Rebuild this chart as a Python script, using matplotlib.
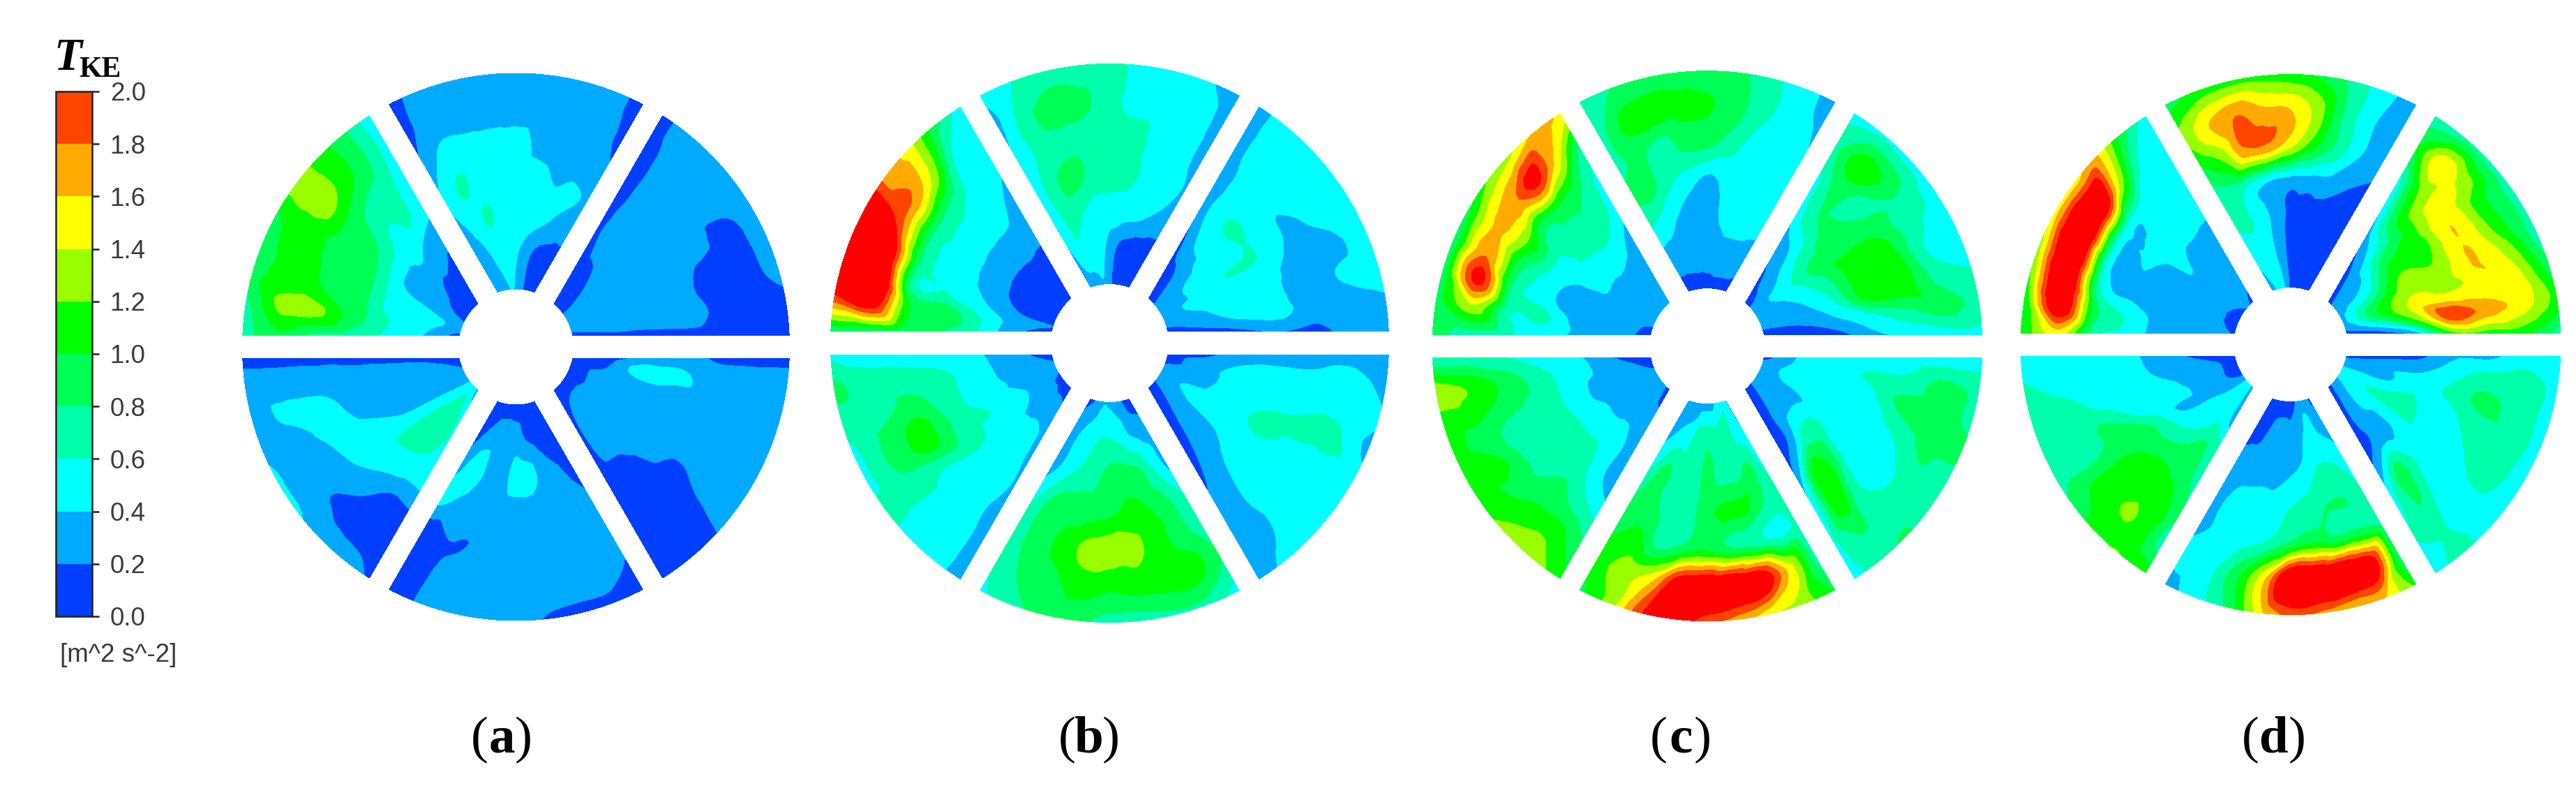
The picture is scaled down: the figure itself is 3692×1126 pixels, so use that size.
import numpy as np
import matplotlib
matplotlib.use("Agg")
import matplotlib.pyplot as plt
from matplotlib.colors import ListedColormap, BoundaryNorm
from matplotlib.cm import ScalarMappable
from matplotlib.tri import Triangulation, CubicTriInterpolator, UniformTriRefiner

# TKE values per blade passage: rows run rim -> hub, columns run clockwise
a_ul = [[.7,.75,.9,.9,1.0,1.3,1.1,.85,.45],[.95,1.25,1.1,1.1,1.1,1.3,1.1,.85,.5],[.75,1.25,1.0,.95,.9,.9,.75,.7,.45],
        [.7,.9,.9,.9,.85,.75,.55,.62,.45],[.55,.6,.5,.48,.4,.38,.42,.3,.25],[.4,.45,.5,.38,.3,.25,.18,.18,.12],[.12,.25,.28,.2,.12,.1,.1,.1,.1]]
a_t = [[.1,.3,.3,.3,.3,.3,.3,.3,.1],[.15,.3,.3,.3,.3,.3,.3,.3,.15],[.25,.5,.5,.5,.5,.35,.3,.3,.22],
       [.42,.62,.55,.5,.5,.5,.4,.42,.38],[.35,.48,.62,.55,.5,.5,.43,.35,.28],[.25,.35,.45,.5,.42,.28,.15,.12,.15],[.25,.3,.35,.4,.38,.25,.15,.12,.1]]
a_ur = [[.12,.3,.3,.3,.3,.3,.28,.12,.1],[.12,.25,.3,.3,.15,.12,.1,.1,.1],[.12,.25,.3,.3,.28,.18,.15,.18,.12],
        [.12,.3,.3,.3,.3,.28,.28,.3,.13],[.15,.25,.3,.3,.3,.3,.3,.28,.13],[.12,.12,.2,.28,.3,.3,.3,.28,.15],[.1,.1,.1,.2,.25,.25,.25,.22,.12]]
a_lr = [[.15,.3,.3,.3,.3,.3,.18,.1,.1],[.15,.3,.3,.3,.3,.28,.1,.1,.1],[.17,.3,.3,.3,.3,.17,.1,.1,.1],
        [.3,.45,.3,.3,.3,.28,.18,.1,.1],[.25,.52,.3,.3,.3,.3,.3,.28,.15],[.12,.2,.27,.27,.27,.3,.3,.27,.15],[.1,.1,.1,.1,.12,.12,.12,.1,.1]]
a_b = [[.12,.15,.15,.18,.3,.3,.3,.22,.1],[.2,.3,.3,.3,.3,.3,.3,.2,.1],[.22,.3,.3,.3,.3,.28,.2,.2,.12],
       [.22,.3,.3,.3,.3,.28,.3,.33,.5],[.12,.22,.3,.48,.5,.3,.33,.58,.3],[.1,.1,.15,.2,.3,.3,.3,.25,.15],[.1,.1,.1,.1,.1,.12,.12,.1,.1]]
a_ll = [[.18,.28,.32,.42,.42,.38,.3,.3,.15],[.1,.12,.15,.22,.3,.3,.45,.3,.15],[.15,.12,.28,.38,.42,.5,.45,.3,.15],
        [.45,.45,.5,.55,.5,.35,.3,.3,.13],[.55,.65,.68,.58,.37,.3,.3,.3,.13],[.55,.68,.65,.5,.32,.3,.3,.28,.13],[.3,.55,.45,.35,.3,.25,.2,.15,.12]]

b_ul = [[.8,1.9,2.5,2.5,2.3,1.7,1.5,.9,.5],[.8,2.2,2.6,2.4,1.9,1.75,1.3,.55,.45],[.85,1.05,.7,.8,.75,.75,.65,.5,.42],
        [.8,.95,.6,.5,.5,.5,.48,.45,.3],[.6,.6,.42,.35,.32,.3,.3,.3,.25],[.25,.3,.2,.12,.1,.1,.1,.1,.1],[.12,.2,.15,.1,.1,.1,.1,.1,.1]]
b_t = [[.45,.6,.65,.65,.65,.55,.5,.42,.3],[.35,.72,.92,.85,.68,.5,.5,.5,.32],[.42,.65,.72,.72,.75,.72,.5,.5,.32],
       [.45,.75,.88,.75,.7,.65,.55,.5,.38],[.4,.65,.62,.5,.5,.5,.47,.38,.3],[.38,.55,.5,.48,.32,.15,.1,.1,.12],[.2,.3,.35,.38,.25,.15,.1,.1,.1]]
b_ur = [[.32,.48,.45,.5,.5,.5,.5,.38,.3],[.32,.5,.5,.48,.42,.35,.42,.32,.28],[.3,.45,.42,.4,.38,.3,.3,.3,.13],
        [.28,.55,.62,.6,.6,.48,.45,.48,.2],[.18,.42,.48,.48,.6,.48,.48,.42,.15],[.12,.2,.35,.42,.42,.45,.38,.3,.12],[.1,.12,.25,.28,.3,.3,.28,.2,.1]]
b_lr = [[.3,.35,.42,.35,.5,.5,.5,.45,.3],[.32,.5,.55,.65,.55,.5,.5,.35,.3],[.3,.45,.55,.62,.58,.5,.5,.38,.28],
        [.3,.45,.5,.6,.62,.52,.48,.32,.18],[.3,.42,.48,.5,.5,.45,.32,.25,.12],[.15,.3,.3,.35,.45,.4,.3,.2,.1],[.1,.12,.2,.25,.3,.28,.2,.12,.1]]
b_b = [[.5,.72,.75,.7,.7,.85,.85,.75,.55],[.8,1.1,1.1,1.1,1.05,1.1,.95,.85,.65],[.7,.9,1.1,1.25,1.3,1.25,1.05,.9,.68],
       [.6,.85,1.0,1.05,.95,.9,.9,.85,.55],[.35,.6,.85,.9,.88,.72,.65,.5,.3],[.3,.35,.42,.55,.6,.6,.5,.42,.3],[.1,.12,.25,.3,.35,.38,.3,.2,.15]]
b_ll = [[.3,.48,.55,.65,.55,.55,.7,.85,.55],[.32,.48,.5,.68,.85,.85,.7,.68,.52],[.32,.45,.5,.62,1.05,1.05,.85,.68,.5],
        [.38,.48,.5,.65,.7,.68,.65,.62,.48],[.35,.48,.5,.5,.58,.48,.48,.45,.42],[.3,.35,.33,.38,.4,.35,.3,.3,.25],[.1,.12,.15,.15,.2,.22,.22,.18,.12]]

c_ul = [[.9,.9,.85,.8,.95,1.2,1.35,1.6,1.55],[.7,1.35,2.1,1.75,1.65,1.75,2.1,1.55,.8],[.65,.65,.75,.85,1.1,.85,.95,.85,.55],
        [.5,.65,.45,.48,.55,.68,.72,.72,.5],[.35,.3,.3,.35,.5,.5,.52,.45,.3],[.3,.3,.3,.3,.3,.3,.3,.3,.28],[.12,.15,.22,.28,.3,.3,.3,.28,.25]]
c_t = [[.6,.8,.85,.9,.9,.85,.65,.5,.3],[.68,1.05,1.1,1.05,1.02,.88,.65,.5,.38],[.72,.85,.68,.85,.85,.7,.5,.5,.42],
       [.85,.85,.62,.48,.35,.45,.5,.5,.48],[.6,.5,.38,.3,.3,.42,.5,.5,.45],[.3,.3,.3,.3,.3,.3,.3,.3,.3],[.12,.1,.1,.1,.12,.15,.15,.15,.12]]
c_ur = [[.52,.55,.5,.5,.5,.5,.6,.72,.5],[.72,1.1,1.0,.75,.65,.6,.75,.9,.5],[.55,.88,.68,.88,1.05,1.15,1.1,.75,.45],
        [.5,.78,.88,.92,1.1,1.1,1.05,.55,.35],[.3,.45,.7,.85,.72,.62,.5,.35,.12],[.18,.3,.42,.5,.42,.35,.3,.2,.12],[.12,.15,.28,.3,.3,.3,.28,.18,.12]]
c_lr = [[.45,.75,.75,.85,.7,.72,.82,.72,.5],[.45,.85,.9,.85,.78,.65,.7,.82,.55],[.45,.65,.85,.65,.48,.48,.65,1.15,.45],
        [.48,.62,.52,.5,.48,.48,.95,1.1,.3],[.5,.55,.52,.5,.5,.65,.65,.3,.1],[.42,.45,.48,.45,.3,.32,.3,.2,.1],[.12,.25,.3,.3,.28,.3,.22,.12,.1]]
c_b = [[1.0,1.3,1.45,1.7,1.9,2.1,2.0,1.3,.95],[.7,1.5,2.2,2.3,2.3,2.2,1.5,1.3,1.1],[.62,.55,.7,.8,.95,.85,.7,1.05,.95],
       [.72,.8,1.05,1.05,.95,.7,.7,.85,.8],[.55,.85,.72,.72,.85,.7,.68,.85,.55],[.42,.55,.72,.7,.75,.72,.5,.45,.35],[.38,.55,.48,.32,.3,.3,.3,.3,.3]]
c_ll = [[1.05,1.3,1.3,1.15,1.05,1.05,1.1,1.3,.6],[.85,1.1,1.05,.95,1.05,.9,1.05,1.15,.62],[.55,.7,.85,.72,.68,.68,.85,.9,.6],
        [.28,.45,.65,.7,.7,.68,.68,.65,.5],[.3,.42,.52,.48,.48,.42,.42,.45,.42],[.27,.3,.3,.3,.3,.3,.3,.3,.2],[.1,.2,.2,.25,.25,.22,.18,.12,.1]]

d_ul = [[1.0,1.0,1.2,1.35,1.5,1.5,1.65,.95,.5],[1.5,2.3,2.4,2.45,2.45,2.3,1.3,.55,.5],[.7,.9,.62,.5,.5,.48,.45,.42,.42],
        [.55,.55,.35,.38,.42,.48,.5,.5,.45],[.28,.3,.3,.3,.3,.42,.32,.3,.28],[.3,.3,.3,.3,.3,.3,.3,.3,.28],[.18,.15,.12,.12,.15,.18,.2,.2,.15]]
d_t = [[.9,1.05,1.1,1.1,1.05,.95,.72,.48,.28],[1.25,1.6,1.8,1.65,1.6,1.3,.75,.42,.28],[1.0,1.25,1.75,1.75,1.45,1.05,.72,.4,.28],
       [.68,.7,.5,.35,.3,.3,.3,.2,.12],[.62,.62,.5,.3,.15,.1,.1,.1,.1],[.45,.55,.45,.3,.12,.1,.1,.1,.1],[.3,.4,.5,.35,.15,.1,.1,.1,.1]]
d_ur = [[.65,.7,.7,.7,.72,.7,.9,1.1,.7],[1.0,1.55,1.35,1.1,1.15,1.35,1.5,1.5,1.05],[.55,1.2,1.5,1.6,1.6,1.6,1.45,1.7,1.1],
        [.42,1.0,1.1,1.1,1.2,1.3,1.45,1.95,1.15],[.28,.55,.9,1.1,1.25,1.35,1.45,1.2,.35],[.12,.3,.38,.5,.7,.95,.95,.55,.12],[.1,.2,.28,.3,.32,.32,.3,.28,.12]]
d_lr = [[.5,.55,.52,.52,.5,.5,.52,.68,.5],[.5,.7,.72,.72,.68,.62,.48,.62,.6],[.35,.68,.85,.7,.6,.55,.48,.82,.55],
        [.35,.52,.62,.5,.48,.52,.6,.85,.35],[.15,.35,.55,.62,.68,.48,.3,.25,.1],[.15,.3,.28,.52,.62,.48,.4,.28,.12],[.12,.3,.35,.45,.45,.4,.35,.22,.1]]
d_b = [[1.15,1.6,1.6,1.75,1.85,1.5,.85,.5,.35],[.8,2.2,2.4,2.4,2.4,1.5,.9,.5,.45],[.72,.85,.85,.98,.85,.62,.5,.45,.35],
       [.62,.8,.8,.7,.6,.5,.5,.45,.32],[.5,.62,.62,.45,.38,.3,.3,.3,.3],[.32,.4,.48,.35,.28,.3,.28,.15,.1],[.15,.3,.35,.2,.1,.1,.1,.1,.1]]
d_ll = [[1.1,1.2,1.1,.85,.72,.62,.62,.62,.48],[.7,1.15,1.2,1.1,.75,.7,.7,.5,.5],[.82,1.1,1.1,1.1,.85,.8,.5,.5,.5],
        [.7,.9,.95,.85,.82,.5,.48,.48,.45],[.65,.8,.62,.52,.38,.48,.42,.32,.28],[.3,.5,.48,.42,.32,.3,.3,.28,.15],[.3,.5,.42,.25,.15,.12,.12,.12,.1]]

levels = [0.0, 0.2, 0.4, 0.6, 0.8, 1.0, 1.2, 1.4, 1.6, 1.8, 2.0]
tick_labels = ["0.0", "0.2", "0.4", "0.6", "0.8", "1.0", "1.2", "1.4", "1.6", "1.8", "2.0"]
band_colors = ["#003fff", "#00aaff", "#00ffff", "#00ffaa", "#00ff55", "#00ff00",
               "#99ff00", "#ffff00", "#ffaa00", "#ff4400"]
over_color = "#ff0000"
panel_letters = ["a", "b", "c", "d"]
panels = [[a_ul, a_t, a_ur, a_lr, a_b, a_ll], [b_ul, b_t, b_ur, b_lr, b_b, b_ll],
          [c_ul, c_t, c_ur, c_lr, c_b, c_ll], [d_ul, d_t, d_ur, d_lr, d_b, d_ll]]

# layout in pixels of the 3692x1126 canvas: centre x, centre y, radius, hub radius
geometry = [(739.5, 497, 392, 83), (1590.5, 491.5, 400, 85), (2447, 495.7, 394, 83), (3283, 493.6, 387, 82)]
label_x = [719, 1561, 2409, 3259]
half_gap = 16.5
sector_centres = np.radians([150, 90, 30, -30, -90, -150])

W, H = 3692, 1126
fig = plt.figure(figsize=(W / 100, H / 100), dpi=100, facecolor="white")
ax = fig.add_axes([0, 0, 1, 1])
ax.set_xlim(0, W)
ax.set_ylim(H, 0)
ax.axis("off")

cmap = ListedColormap(band_colors)
cmap.set_over(over_color)
norm = BoundaryNorm(levels, cmap.N, extend="neither", clip=False)


def grid_triangles(nr, nc):
    tris = []
    for i in range(nr - 1):
        for j in range(nc - 1):
            p = i * nc + j
            tris += [[p, p + 1, p + nc], [p + 1, p + nc + 1, p + nc]]
    return np.array(tris)


def draw_sector(values, centre, cx, cy, R, rh):
    z = np.asarray(values, float)
    nr, nc = z.shape
    jj, ii = np.meshgrid(np.arange(nc, dtype=float), np.arange(nr, dtype=float))
    tri = Triangulation(jj.ravel(), ii.ravel(), grid_triangles(nr, nc))
    interp = CubicTriInterpolator(tri, z.ravel(), kind="geom")
    fine, zf = UniformTriRefiner(tri).refine_field(z.ravel(), triinterpolator=interp, subdiv=3)
    zf = np.clip(np.asarray(zf), 0.001, 3.0)
    r = R + (rh - R) * fine.y / (nr - 1)
    delta = np.pi / 6 - np.arcsin(half_gap / r)
    theta = centre + delta - 2 * delta * fine.x / (nc - 1)
    X = cx + r * np.cos(theta)
    Y = cy - r * np.sin(theta)
    ax.tricontourf(Triangulation(X, Y, fine.triangles), zf, levels=levels, cmap=cmap, norm=norm,
                   extend="max", antialiased=False)


for sectors, (cx, cy, R, rh) in zip(panels, geometry):
    for values, centre in zip(sectors, sector_centres):
        draw_sector(values, centre, cx, cy, R, rh)

# colour bar
cax = fig.add_axes([80 / W, 1 - 883 / H, 52 / W, 752 / H])
cb = fig.colorbar(ScalarMappable(norm=BoundaryNorm(levels, cmap.N), cmap=ListedColormap(band_colors)),
                  cax=cax, ticks=levels, spacing="proportional", drawedges=False)
cb.ax.set_yticklabels(tick_labels, family="Liberation Sans", fontsize=26.5, color="#3a3a3a")
cb.ax.tick_params(axis="y", length=7.5, width=1.8, pad=11, color="#222222")
cb.outline.set_linewidth(1.8)
cb.outline.set_edgecolor("#222222")

ax.text(170, 939, "[m^2 s^-2]", family="Liberation Sans", fontsize=26.5, color="#3a3a3a", ha="center", va="center")
ax.text(77, 100, "T", family="Liberation Serif", style="italic", weight="bold", fontsize=47,
        ha="left", va="baseline", color="black")
ax.text(113, 110, "KE", family="Liberation Serif", weight="bold", fontsize=30,
        ha="left", va="baseline", color="black")

# panel labels
for letter, x in zip(panel_letters, label_x):
    ax.text(x, 1078, letter, family="Liberation Serif", weight="bold", fontsize=54, ha="center", va="baseline")
    half = 19 if letter != "d" else 21
    ax.text(x - half, 1078, "(", family="Liberation Serif", fontsize=54, ha="right", va="baseline")
    ax.text(x + half, 1078, ")", family="Liberation Serif", fontsize=54, ha="left", va="baseline")

fig.savefig("out.png", dpi=100, facecolor="white")
